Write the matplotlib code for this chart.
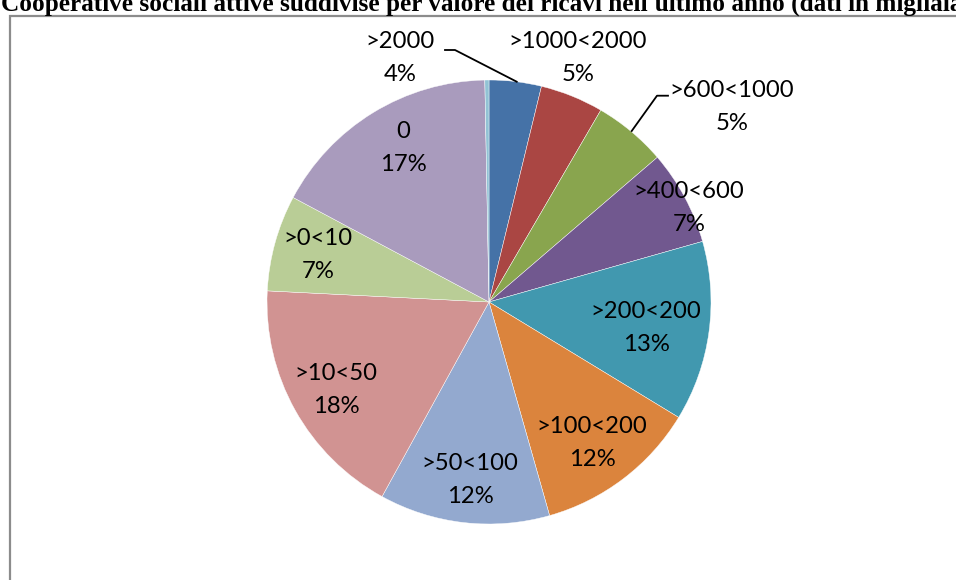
import matplotlib
matplotlib.use("Agg")
import matplotlib.pyplot as plt
import numpy as np

# Ricavi (migliaia di euro): quota percentuale delle cooperative per classe
categories = [">2000", ">1000<2000", ">600<1000", ">400<600", ">200<200",
              ">100<200", ">50<100", ">10<50", ">0<10", "0", ""]
shares = [3.8, 4.6, 5.3, 6.9, 13.1, 11.9, 12.4, 17.8, 7.0, 16.9, 0.3]
colors = ["#4572A7", "#AA4643", "#89A54E", "#71588F", "#4198AF", "#DB843D",
          "#93A9CF", "#D19392", "#B9CD96", "#A99BBD", "#92C3D5"]

title = "Cooperative sociali attive suddivise per valore dei ricavi nell'ultimo anno (dati in migliaia di euro)"

W, H = 956, 580
fig = plt.figure(figsize=(W / 100, H / 100), dpi=100)
ax = fig.add_axes([0, 0, 1, 1])

cx, cy, r = 489, H - 302, 222

ax.pie(shares, colors=colors, startangle=90, counterclock=False,
       center=(cx, cy), radius=r, frame=True,
       wedgeprops=dict(edgecolor="white", linewidth=0.3))
ax.set_xlim(0, W)
ax.set_ylim(0, H)
ax.set_aspect("equal")
ax.axis("off")

# chart-area frame (extends past the right and bottom edges)
ax.plot([10, 10, W + 5], [-5, H - 16, H - 16], color="#8c8c8c", lw=1.6,
        solid_joinstyle="miter", clip_on=False)

# label centre positions (pixel offsets from top-left)
label_pos = [(400, 58), (578, 58), (732, 107), (689, 208), (646, 328),
             (592, 443), (470, 480), (336, 390), (318, 255), (403, 148)]
font = dict(family=["Lato", "DejaVu Sans"], fontsize=17.2, color="black")
line_gap = 33

total = sum(shares)
for name, val, (lx, ly) in zip(categories, shares, label_pos):
    if not name:
        continue
    pct = f"{val / total * 100:.0f}%"
    ax.text(lx, H - ly + line_gap / 2, name, ha="center", va="center", **font)
    ax.text(lx, H - ly - line_gap / 2, pct, ha="center", va="center", **font)

# leader lines for the labels outside the pie
ax.plot([445, 455, 516.7], [H - 50, H - 50, H - 81.7], color="black", lw=1.3)
ax.plot([668, 657, 631.7], [H - 95.7, H - 95.7, H - 131], color="black", lw=1.3)

ax.text(1, H - 11, title, ha="left", va="baseline",
        family="Liberation Serif", fontweight="bold", fontsize=18.2,
        color="black")

fig.savefig("out.png", dpi=100)
